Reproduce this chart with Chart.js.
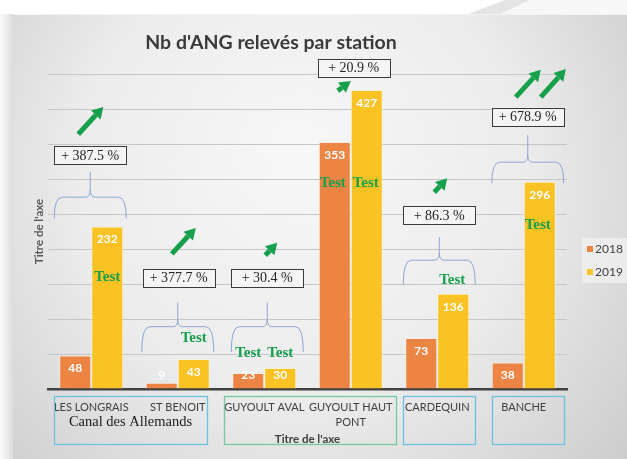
<!DOCTYPE html>
<html>
<head>
<meta charset="utf-8">
<script src="https://cdn.jsdelivr.net/npm/chart.js@4.4.0/dist/chart.umd.min.js"></script>
<style>
  html, body { margin: 0; padding: 0; background: #fff; }
  #wrap { width: 627px; height: 459px; }
</style>
</head>
<body>
<div id="wrap"><canvas id="chart" width="627" height="459"></canvas></div>
<script>
// données
const stations = ['LES LONGRAIS', 'ST BENOIT', 'GUYOULT AVAL', ['GUYOULT HAUT', 'PONT'], 'CARDEQUIN', 'BANCHE'];
const ang2018 = [48, 9, 23, 353, 73, 38];
const ang2019 = [232, 43, 30, 427, 136, 296];
const evolution = ['+ 387.5 %', '+ 377.7 %', '+ 30.4 %', '+ 20.9 %', '+ 86.3 %', '+ 678.9 %'];

// placement des annotations (decalage px depuis le centre de la station, hauteur en valeur d'axe)
const boxDx = [-1, 1, 3, 3, 2, 4];
const boxVal = [334, 159, 159, 459, 248, 389];
const arrows = [[0, -13, 364, 12, 403], [1, -6, 193, 18, 230], [2, 1, 191, 13, 209], [3, -13, 426, 0, 440],
                [4, -3, 281, 10, 301], [5, -8, 417, 17, 456], [5, 17, 417, 42, 457]];
const braces = [[0, -1, 310, 274, 244], [1, 0, 124, 89, 53], [2, 3, 124, 89, 53], [4, 2, 217, 184, 149], [5, 4, 363, 324, 294]];
const tests = [[0, 16, 160], [1, 16, 73], [2, -16, 51], [2, 16, 51], [3, -18, 294], [3, 15, 294], [4, 15, 156], [5, 14, 234]];
const groups = [[0, 6, 1, -14, '#6cc1e0', 'Canal des Allemands'], [2, 3, 3, 2, '#74cba3', ''], [4, 9, 4, -6, '#6cc1e0', ''], [5, 11, 5, -3, '#6cc1e0', '']];

const orange = '#ec8544';
const yellow = '#fbc224';
const green = '#17a04c';

const decor = {
  id: 'decor',
  beforeDraw(chart) {
    const ctx = chart.ctx;
    ctx.save();
    ctx.fillStyle = '#ffffff';
    ctx.fillRect(0, 0, 627, 459);
    // ombre a gauche
    let lg = ctx.createLinearGradient(0, 0, 13, 0);
    lg.addColorStop(0, '#fbfbfb');
    lg.addColorStop(1, '#dcdcdc');
    ctx.fillStyle = lg;
    ctx.fillRect(0, 14, 13, 445);
    // trait clair en haut a droite
    ctx.fillStyle = '#e4e4e4';
    ctx.beginPath();
    ctx.moveTo(468, 14); ctx.lineTo(505, 0); ctx.lineTo(627, 0); ctx.lineTo(627, 14); ctx.closePath();
    ctx.fill();
    ctx.fillStyle = '#f7f7f7';
    ctx.beginPath();
    ctx.moveTo(500, 14); ctx.lineTo(530, 0); ctx.lineTo(627, 0); ctx.lineTo(627, 14); ctx.closePath();
    ctx.fill();
    // fond du graphique
    const rg = ctx.createRadialGradient(300, 150, 10, 300, 200, 440);
    rg.addColorStop(0, '#f7f7f7');
    rg.addColorStop(0.5, '#ececec');
    rg.addColorStop(1, '#c9c9c9');
    ctx.fillStyle = rg;
    ctx.fillRect(13, 14, 614, 445);
    ctx.strokeStyle = '#f4f4f4';
    ctx.lineWidth = 1;
    ctx.beginPath(); ctx.moveTo(13, 14.5); ctx.lineTo(627, 14.5); ctx.stroke();
    // titre
    ctx.fillStyle = '#3a3a3a';
    ctx.font = 'bold 19.5px Lato';
    ctx.textAlign = 'center';
    ctx.textBaseline = 'middle';
    ctx.fillText("Nb d'ANG relevés par station", 271, 43);
    ctx.restore();
  },
  beforeDatasetsDraw(chart) {
    const ctx = chart.ctx, x = chart.scales.x, y = chart.scales.y;
    ctx.save();
    ctx.strokeStyle = '#8ba7d2';
    ctx.lineWidth = 1;
    braces.forEach(b => {
      const xc = x.getPixelForValue(b[0]) + b[1];
      const x1 = xc - 36, x2 = xc + 36;
      const yt = y.getPixelForValue(b[2]), ym = y.getPixelForValue(b[3]), ye = y.getPixelForValue(b[4]);
      ctx.beginPath();
      ctx.moveTo(x1, ye);
      ctx.quadraticCurveTo(x1, ym, x1 + 8, ym);
      ctx.lineTo(xc - 5, ym);
      ctx.quadraticCurveTo(xc, ym, xc, ym - 7);
      ctx.lineTo(xc, yt);
      ctx.moveTo(x2, ye);
      ctx.quadraticCurveTo(x2, ym, x2 - 8, ym);
      ctx.lineTo(xc + 5, ym);
      ctx.quadraticCurveTo(xc, ym, xc, ym - 7);
      ctx.stroke();
    });
    ctx.restore();
  },
  afterDatasetsDraw(chart) {
    const ctx = chart.ctx, x = chart.scales.x, y = chart.scales.y;
    ctx.save();
    // etiquettes de valeurs
    ctx.font = 'bold 12px Lato';
    ctx.fillStyle = '#ffffff';
    ctx.textAlign = 'center';
    ctx.textBaseline = 'middle';
    chart.data.datasets.forEach((ds, di) => {
      chart.getDatasetMeta(di).data.forEach((bar, i) => {
        const yy = Math.min(bar.y + 13, bar.base - 13);
        ctx.fillText(String(ds.data[i]), bar.x, yy);
      });
    });
    // "Test"
    ctx.font = 'bold 15px "Liberation Serif"';
    ctx.fillStyle = green;
    tests.forEach(t => {
      ctx.fillText('Test', x.getPixelForValue(t[0]) + t[1], y.getPixelForValue(t[2]));
    });
    // boites de pourcentage
    ctx.font = '14px "Liberation Serif"';
    evolution.forEach((txt, i) => {
      const cx = x.getPixelForValue(i) + boxDx[i];
      const cy = y.getPixelForValue(boxVal[i]);
      ctx.fillStyle = 'rgba(245,245,245,0.9)';
      ctx.fillRect(cx - 36, cy - 9, 72, 18);
      ctx.strokeStyle = '#3a3a3a';
      ctx.lineWidth = 1;
      ctx.strokeRect(Math.round(cx - 36) + 0.5, Math.round(cy - 9) + 0.5, 72, 18);
      ctx.fillStyle = '#262626';
      ctx.fillText(txt, cx, cy + 1);
    });
    // fleches
    ctx.fillStyle = green;
    ctx.strokeStyle = green;
    arrows.forEach(a => {
      const x0 = x.getPixelForValue(a[0]) + a[1], y0 = y.getPixelForValue(a[2]);
      const x1 = x.getPixelForValue(a[0]) + a[3], y1 = y.getPixelForValue(a[4]);
      const ang = Math.atan2(y1 - y0, x1 - x0);
      const hl = 11, hw = 6.5;
      const bx = x1 - hl * Math.cos(ang), by = y1 - hl * Math.sin(ang);
      ctx.lineWidth = 5;
      ctx.beginPath(); ctx.moveTo(x0, y0); ctx.lineTo(bx, by); ctx.stroke();
      ctx.beginPath();
      ctx.moveTo(x1, y1);
      ctx.lineTo(bx + hw * Math.sin(ang), by - hw * Math.cos(ang));
      ctx.lineTo(bx - hw * Math.sin(ang), by + hw * Math.cos(ang));
      ctx.closePath();
      ctx.fill();
    });
    ctx.restore();
  },
  afterDraw(chart) {
    const ctx = chart.ctx, x = chart.scales.x;
    const half = (x.getPixelForValue(1) - x.getPixelForValue(0)) / 2;
    ctx.save();
    // cadres des groupes de stations
    groups.forEach(g => {
      const l = Math.round(x.getPixelForValue(g[0]) - half + g[1]);
      const r = Math.round(x.getPixelForValue(g[2]) + half + g[3]);
      ctx.strokeStyle = g[4];
      ctx.lineWidth = 1.3;
      ctx.strokeRect(l + 0.5, 396.5, r - l, 48);
      if (g[5]) {
        ctx.fillStyle = '#1a1a1a';
        ctx.font = '14.5px "Liberation Serif"';
        ctx.textAlign = 'center';
        ctx.textBaseline = 'middle';
        ctx.fillText(g[5], (l + r) / 2, 422);
      }
    });
    // legende
    const lx = chart.chartArea.right + 15;
    ctx.fillStyle = 'rgba(240,240,240,0.8)';
    ctx.fillRect(lx, 238, 627 - lx, 45);
    ctx.font = '12px Lato';
    ctx.textAlign = 'left';
    ctx.textBaseline = 'middle';
    chart.data.datasets.forEach((ds, i) => {
      const ly = 249 + i * 23;
      ctx.fillStyle = ds.backgroundColor;
      ctx.fillRect(lx + 5, ly - 3, 6, 6);
      ctx.fillStyle = '#404040';
      ctx.fillText(ds.label, lx + 13, ly);
    });
    ctx.restore();
  }
};

new Chart(document.getElementById('chart'), {
  type: 'bar',
  data: {
    labels: stations,
    datasets: [
      { label: '2018', data: ang2018, backgroundColor: orange, borderColor: 'rgba(255,240,225,0.7)', borderWidth: 1, categoryPercentage: 0.74, barPercentage: 1 },
      { label: '2019', data: ang2019, backgroundColor: yellow, borderColor: 'rgba(255,245,215,0.7)', borderWidth: 1, categoryPercentage: 0.74, barPercentage: 1 }
    ]
  },
  options: {
    responsive: false,
    animation: false,
    devicePixelRatio: 1,
    layout: { padding: { left: 13, right: 60, top: 74, bottom: 0 } },
    plugins: {
      legend: { display: false },
      tooltip: { enabled: false },
      title: { display: false }
    },
    scales: {
      x: {
        grid: { display: false },
        border: { color: '#404040', width: 2.5 },
        ticks: { color: '#404040', font: { family: 'Lato', size: 11, lineHeight: 1.35 }, padding: 3, maxRotation: 0, autoSkip: false },
        title: { display: true, text: "Titre de l'axe", color: '#404040', font: { family: 'Lato', size: 11.5, weight: 'bold' }, padding: { top: 0, bottom: 13 } },
        afterFit: s => { s.height = 70; }
      },
      y: {
        min: 0,
        max: 450,
        ticks: { display: false, stepSize: 50 },
        grid: { color: '#c6c6c6', drawTicks: false },
        border: { display: false },
        title: { display: true, text: "Titre de l'axe", color: '#595959', font: { family: 'Lato', size: 11.5, weight: 'bold' }, padding: { top: 19, bottom: 0 } },
        afterFit: s => { s.width = 35; }
      }
    }
  },
  plugins: [decor]
});
</script>
</body>
</html>
